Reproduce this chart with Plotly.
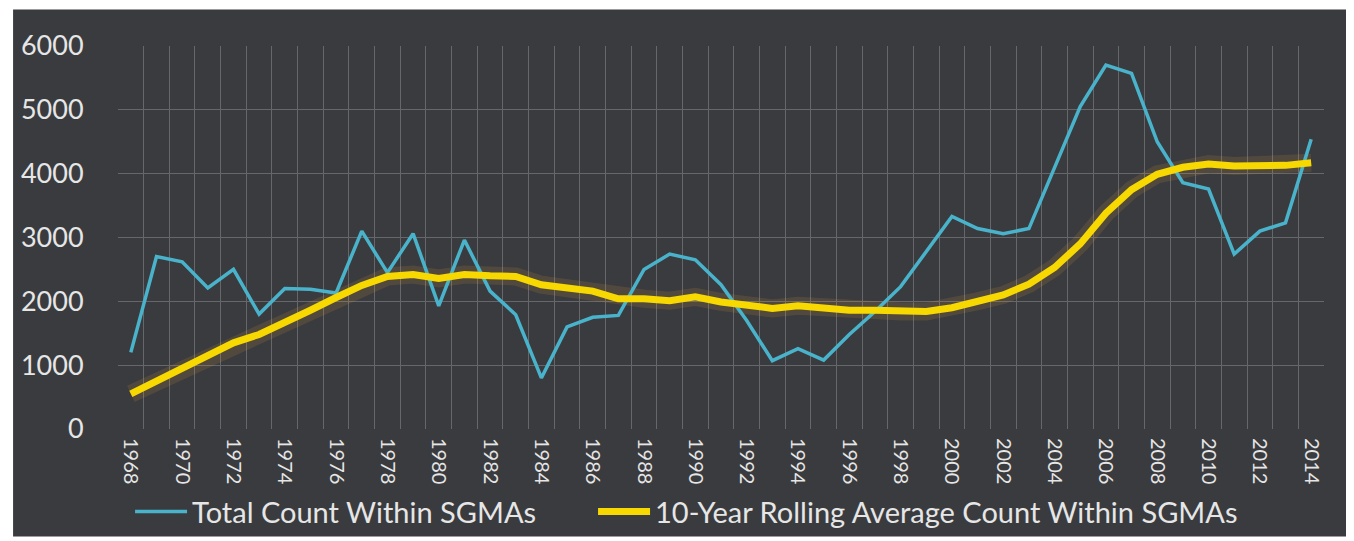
import plotly.graph_objects as go

years = list(range(1968, 2015))

total_count = [1200, 2700, 2620, 2210, 2500, 1800, 2200, 2190, 2130, 3100,
               2450, 3060, 1930, 2960, 2160, 1790, 800, 1600, 1750, 1780,
               2500, 2740, 2650, 2260, 1700, 1070, 1260, 1080, 1480, 1840,
               2230, 2770, 3330, 3140, 3060, 3140, 4100, 5050, 5700, 5570,
               4500, 3860, 3760, 2740, 3100, 3230, 4540]

rolling_avg = [550, 750, 950, 1120, 1350, 1480, 1660, 1860, 2060, 2250,
               2390, 2420, 2360, 2420, 2400, 2390, 2260, 2200, 2160, 2040,
               2040, 2010, 2070, 1990, 1950, 1890, 1930, 1890, 1860, 1860,
               1840, 1840, 1900, 2000, 2100, 2270, 2530, 2900, 3380, 3750,
               3990, 4100, 4150, 4120, 4120, 4130, 4170]

y_ticks = [0, 1000, 2000, 3000, 4000, 5000, 6000]
x_ticks = list(range(1968, 2015, 2))

series_names = ["Total Count Within SGMAs", "10-Year Rolling Average Count Within SGMAs"]

text_color = "#e6e6e6"
grid_color = "#66676a"
panel_color = "#3a3b3e"

fig = go.Figure()

# soft glow under the rolling average
fig.add_trace(go.Scatter(x=years, y=rolling_avg, mode="lines",
                         line=dict(color="rgba(240,170,60,0.13)", width=18),
                         hoverinfo="skip", showlegend=False))
fig.add_trace(go.Scatter(x=years, y=total_count, mode="lines",
                         name=series_names[0] + "\u00a0" * 7,
                         line=dict(color="#4ab3cc", width=3.5)))
fig.add_trace(go.Scatter(x=years, y=rolling_avg, mode="lines", name=series_names[1],
                         line=dict(color="#f7d800", width=7)))

# dark panel behind the whole chart
fig.add_shape(type="rect", xref="paper", yref="paper",
              x0=-0.087, x1=1.0265, y0=-0.281, y1=1.095,
              fillcolor=panel_color, line=dict(width=0), layer="below")

fig.update_layout(
    width=1354, height=541,
    margin=dict(l=110, r=38, t=38, b=115),
    paper_bgcolor="white",
    plot_bgcolor="rgba(0,0,0,0)",
    font=dict(family="Lato, 'Open Sans', sans-serif", color=text_color),
    legend=dict(orientation="h", x=0.01, xanchor="left", y=-0.216, yanchor="middle",
                itemwidth=52,
                font=dict(size=29, color=text_color), bgcolor="rgba(0,0,0,0)"),
)

fig.update_xaxes(
    range=[1967.5, 2014.5],
    tickmode="array", tickvals=x_ticks, ticktext=[str(y) for y in x_ticks],
    tickangle=90, tickfont=dict(size=20, color=text_color),
    ticks="outside", ticklen=4, tickcolor="rgba(0,0,0,0)",
    showgrid=False, zeroline=False, showline=False,
    minor=dict(tickmode="linear", tick0=1967.5, dtick=1, showgrid=True,
               gridcolor=grid_color, gridwidth=1, ticks=""),
)
fig.update_yaxes(
    range=[0, 6000],
    tickmode="array", tickvals=y_ticks,
    tickfont=dict(size=27, color=text_color),
    ticks="outside", ticklen=28, tickcolor="rgba(0,0,0,0)",
    showgrid=True, gridcolor=grid_color, gridwidth=1,
    zeroline=False, showline=False,
)

fig.write_html("out.html")
